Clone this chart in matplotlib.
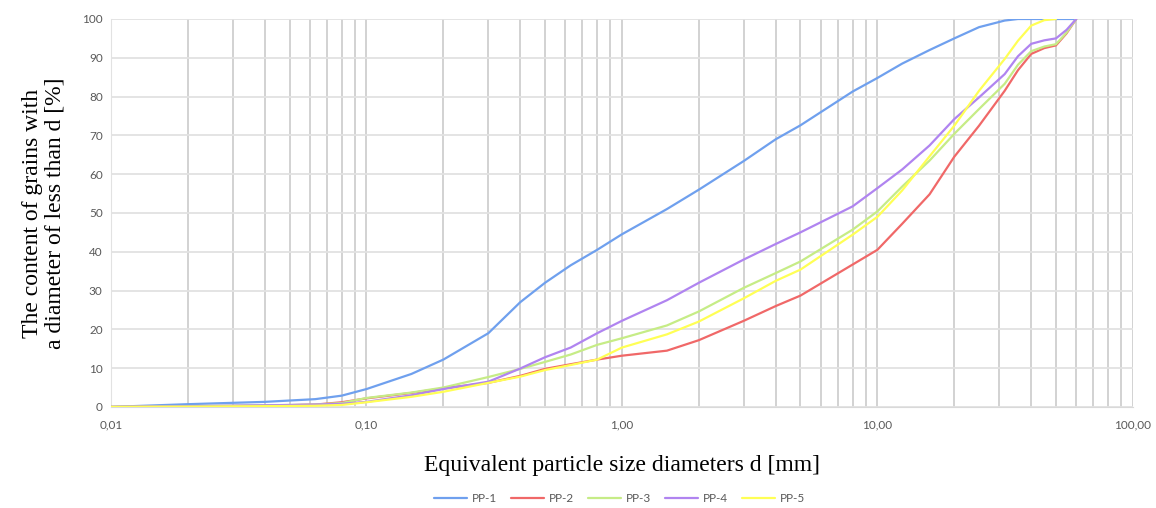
import matplotlib
matplotlib.use("Agg")
import matplotlib.pyplot as plt
from matplotlib.ticker import FixedLocator, NullFormatter

# particle size [mm]
d = [0.01, 0.02, 0.04, 0.063, 0.08, 0.1, 0.15, 0.2, 0.3, 0.4, 0.5, 0.63, 0.8, 1.0,
     1.5, 2.0, 3.0, 4.0, 5.0, 8.0, 10.0, 12.5, 16.0, 20.0, 25.0, 31.5, 35.5, 40.0, 45.0, 50.0,
     55.0, 60.0]

pp1 = [0, 0.7, 1.3, 2.0, 2.9, 4.6, 8.5, 12.2, 19.0, 27.0, 32.0, 36.5, 40.5, 44.5,
       51.0, 56.0, 63.4, 69.0, 72.6, 81.3, 84.8, 88.5, 92.0, 95.0, 97.9, 99.6, 100, 100, 100, 100,
       100, 100]
pp2 = [0, 0.1, 0.3, 0.6, 1.2, 2.2, 3.6, 4.8, 6.2, 8.0, 9.8, 11.0, 12.2, 13.2,
       14.5, 17.2, 22.2, 26.0, 28.7, 36.7, 40.5, 47.2, 54.8, 64.5, 72.5, 81.5, 86.8, 91.0, 92.5, 93.2,
       96.3, 100]
pp3 = [0, 0.2, 0.4, 0.6, 1.0, 2.3, 3.7, 5.0, 7.7, 9.8, 11.6, 13.5, 16.0, 17.7,
       21.0, 24.6, 30.7, 34.5, 37.5, 45.7, 50.4, 56.8, 63.5, 70.4, 76.8, 83.3, 88.2, 91.7, 92.9, 93.5,
       96.5, 100]
pp4 = [0, 0.2, 0.4, 0.6, 0.8, 1.3, 3.0, 4.6, 6.5, 9.9, 12.8, 15.3, 19.0, 22.2,
       27.5, 32.0, 38.0, 42.0, 45.0, 51.7, 56.4, 61.2, 67.4, 74.2, 79.8, 85.8, 90.4, 93.6, 94.5, 95.0,
       97.2, 100]
pp5 = [0, 0.1, 0.2, 0.3, 0.5, 1.2, 2.6, 3.9, 6.2, 7.8, 9.5, 10.8, 12.2, 15.3,
       18.7, 22.0, 28.0, 32.5, 35.4, 44.4, 49.0, 55.8, 64.6, 72.5, 81.5, 89.7, 94.4, 98.3, 99.7, 100]

series_names = ["PP-1", "PP-2", "PP-3", "PP-4", "PP-5"]
series_vals = [pp1, pp2, pp3, pp4, pp5]
colors = ["#6fa0ee", "#f06868", "#c6ec86", "#b084f0", "#ffff55"]

x_ticks = [0.01, 0.1, 1, 10, 100]
x_ticklabels = ["0,01", "0,10", "1,00", "10,00", "100,00"]
y_ticks = list(range(0, 101, 10))

fig = plt.figure(figsize=(11.56, 5.08), dpi=100)
ax = fig.add_axes([0.096, 0.199, 0.884, 0.7636])

for name, vals, c in zip(series_names, series_vals, colors):
    ax.plot(d[:len(vals)], vals, color=c, lw=1.6, label=name, solid_capstyle="round",
            solid_joinstyle="round", zorder=3)

ax.set_xscale("log")
ax.set_xlim(0.01, 100)
ax.set_ylim(0, 100)

minor = [m * 10.0 ** e for e in range(-2, 2) for m in range(2, 10)]
ax.xaxis.set_major_locator(FixedLocator(x_ticks))
ax.xaxis.set_minor_locator(FixedLocator(minor))
ax.xaxis.set_minor_formatter(NullFormatter())
ax.set_xticklabels(x_ticklabels)
ax.set_yticks(y_ticks)

ax.grid(True, axis="x", which="both", color="#cfcfcf", lw=1.3, zorder=0)
ax.grid(True, axis="y", which="major", color="#e2e2e2", lw=1.3, zorder=0)

for s in ["top", "right"]:
    ax.spines[s].set_visible(False)
ax.spines["left"].set_color("#e2e2e2")
ax.spines["bottom"].set_color("#d9d9d9")

tick_font = "Lato"
ax.tick_params(axis="both", which="both", length=0, colors="#595959", labelsize=8.5)
ax.tick_params(axis="x", which="major", pad=9)
ax.tick_params(axis="y", which="major", pad=6)
for lab in ax.get_xticklabels() + ax.get_yticklabels():
    lab.set_fontfamily(tick_font)

ax.set_xlabel("Equivalent particle size diameters d [mm]", family="Liberation Serif",
              fontsize=17, color="black", labelpad=18)
ax.set_ylabel("The content of grains with\na diameter of less than d [%]",
              family="Liberation Serif", fontsize=17, color="black", labelpad=12,
              linespacing=1.1)

leg = fig.legend(loc="lower center", ncol=5, frameon=False, bbox_to_anchor=(0.536, -0.013),
                 prop={"family": tick_font, "size": 8.5}, handlelength=2.8,
                 columnspacing=1.2, handletextpad=0.4)
for t in leg.get_texts():
    t.set_color("#595959")

fig.savefig("out.png", dpi=100)
